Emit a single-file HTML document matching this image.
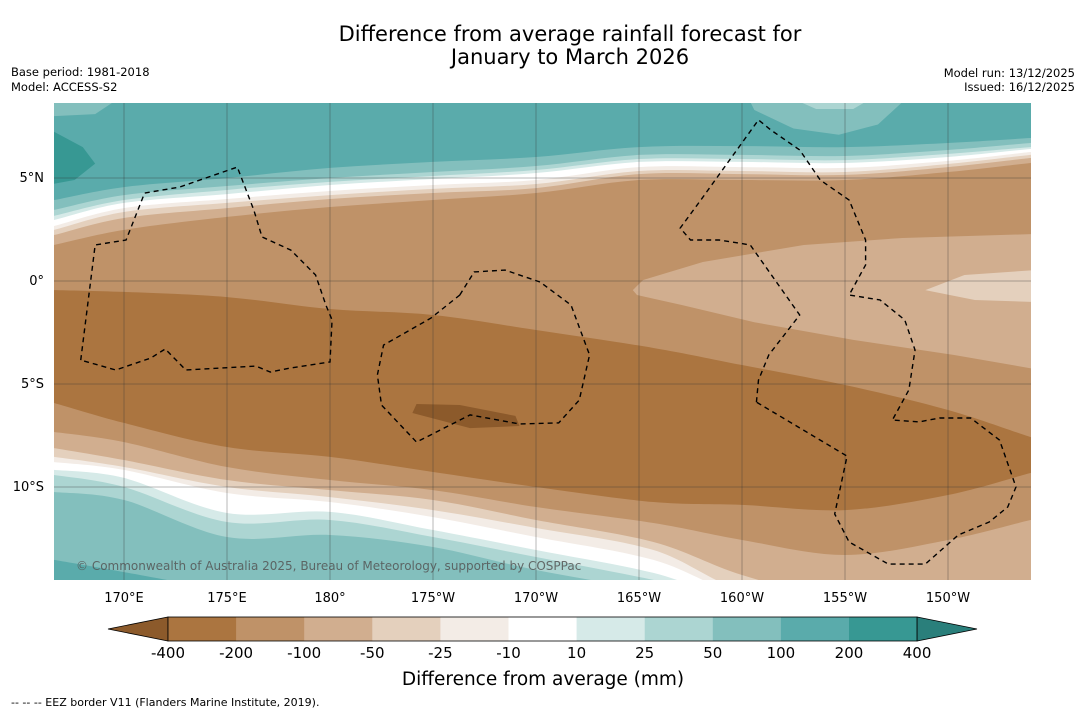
<!DOCTYPE html>
<html><head><meta charset="utf-8"><style>
body{margin:0;background:#fff;font-family:"DejaVu Sans","Liberation Sans",sans-serif;}
svg{display:block}
</style></head><body>
<svg id="chart" width="1085" height="713" viewBox="0 0 1085 713" xmlns="http://www.w3.org/2000/svg" font-family="DejaVu Sans, Liberation Sans, sans-serif">
<rect width="1085" height="713" fill="#fff"/>
<text x="570" y="41" font-size="21" text-anchor="middle">Difference from average rainfall forecast for</text>
<text x="570" y="64" font-size="21" text-anchor="middle">January to March 2026</text>
<text x="11" y="76" font-size="11.5">Base period: 1981-2018</text>
<text x="11" y="91" font-size="11.5">Model: ACCESS-S2</text>
<text x="1075" y="77" font-size="11.5" text-anchor="end">Model run: 13/12/2025</text>
<text x="1075" y="91" font-size="11.5" text-anchor="end">Issued: 16/12/2025</text>
<defs><clipPath id="mc"><rect x="54" y="103" width="977" height="477"/></clipPath></defs>
<g id="map" clip-path="url(#mc)"></g>
<g id="axes"></g>
<g id="cbar"></g>
<text x="543" y="685" font-size="18.5" text-anchor="middle">Difference from average (mm)</text>
<text x="11" y="706" font-size="11">--  --  -- EEZ border V11 (Flanders Marine Institute, 2019).</text>
</svg>
<script>
const colors = {n400:'#8c5a2b',n200:'#ab7540',n100:'#bf9268',n50:'#d1ae8f',n25:'#e4d0bd',n10:'#f3ece6',w:'#ffffff',p10:'#d6eae8',p25:'#acd5d2',p50:'#83bfbd',p100:'#5aabab',p200:'#379893'};
const topLons = [166.6,170,175,180,185,190,195,200,205,210,214];
const botLons = [166.6,170,175,180,185,190,195.7,200,205,210,214];
const topA = [3.93,4.56,5.0,5.49,5.78,6.02,6.50,6.55,6.50,6.70,6.94];
const topB = [3.45,4.17,4.61,5.0,5.29,5.58,6.12,6.12,6.07,6.36,6.70];
const topC = [3.16,3.93,4.42,4.81,5.10,5.39,5.92,5.92,5.87,6.17,6.50];
const topD = [2.96,3.79,4.22,4.66,4.95,5.24,5.78,5.78,5.73,6.02,6.41];
const topE = [2.67,3.54,3.98,4.37,4.66,4.90,5.53,5.53,5.49,5.83,6.26];
const topF = [2.48,3.35,3.79,4.17,4.47,4.71,5.34,5.34,5.29,5.68,6.12];
const topG = [2.23,3.06,3.54,3.98,4.27,4.51,5.19,5.19,5.15,5.53,5.97];
const topH = [1.75,2.48,3.11,3.59,3.93,4.27,4.90,4.90,4.90,5.29,5.73];
const darkTop = [-0.44,-0.53,-0.78,-1.36,-1.65,-2.38,-3.25,-4.08,-5.05,-6.26,-7.57];
const darkBot = [-5.92,-6.89,-8.06,-8.54,-9.27,-10.0,-10.73,-10.87,-11.12,-10.39,-9.32];
const botN100 = [-7.33,-7.82,-9.03,-9.66,-10.15,-10.97,-11.75,-12.57,-13.3,-12.57,-11.6];
const botN50 = [-8.11,-8.69,-9.66,-10.15,-10.63,-11.6,-12.67,-14.27,-15.5,-15.5,-15.5];
const botN25 = [-8.54,-9.03,-10.0,-10.49,-11.12,-11.99,-13.06,-15.0,-15.5,-15.5,-15.5];
const botN10 = [-8.79,-9.17,-10.29,-10.73,-11.46,-12.43,-13.54,-15.2,-15.5,-15.5,-15.5];
const botW = [-9.17,-9.56,-11.26,-11.21,-12.09,-13.06,-14.17,-15.5,-15.5,-15.5,-15.5];
const botP10 = [-9.42,-10.0,-11.7,-11.6,-12.43,-13.4,-14.51,-15.5,-15.5,-15.5,-15.5];
const botP25 = [-10.24,-10.63,-12.43,-12.33,-12.91,-14.03,-15.0,-15.5,-15.5,-15.5,-15.5];
const botP50 = [-13.54,-14.13,-15.0,-15.5,-15.5,-15.5,-15.5,-15.5,-15.5,-15.5,-15.5];
const patchN50 = [[194.7,-0.44],[195.2,0.05],[198.1,0.92],[203,1.75],[207.8,2.09],[214.2,2.28],[214.2,-4.27],[210.3,-3.59],[205.4,-2.86],[200.6,-2.0],[197.1,-1.17],[194.9,-0.68]];
const patchN25 = [[208.9,-0.44],[210.8,0.29],[214.2,0.53],[214.2,-1.02],[211.3,-0.92]];
const patchN400 = [[184.2,-5.97],[186.3,-6.02],[189,-6.55],[189.2,-7.04],[186.8,-7.14],[184,-6.41]];
const patchP200 = [[166.5,7.3],[168,6.5],[168.6,5.7],[167.6,4.9],[166.5,4.7]];
const patchP50a = [[200.4,8.7],[200.6,8.3],[202.5,7.4],[204.7,7.1],[206.6,7.6],[207.8,8.7]];
const patchP25a = [[202.8,8.7],[203.6,8.35],[205.4,8.35],[206,8.7]];
const patchP50b = [[166.5,8.7],[169.5,8.7],[168.6,8.1],[166.5,8.0]];
const eez1 = [[167.9,-3.84],[168.6,1.75],[170.1,1.99],[171,4.27],[172.7,4.56],[175.5,5.53],[176.3,3.45],[176.7,2.14],[178.1,1.5],[179.3,0.29],[179.8,-1.17],[180.1,-1.89],[180,-3.93],[178.1,-4.22],[177.1,-4.42],[176.4,-4.13],[173,-4.32],[172,-3.3],[171.3,-3.74],[169.6,-4.32],[167.9,-3.84]];
const eez2 = [[186.3,-0.68],[187,0.44],[188.5,0.53],[190.2,-0.05],[191.7,-1.17],[192.6,-3.59],[192.1,-5.78],[191.1,-6.89],[189.2,-6.94],[186.8,-6.5],[184.2,-7.82],[182.5,-6.02],[182.3,-4.56],[182.6,-3.11],[184.9,-1.8],[186.3,-0.68]];
const eez3 = [[200.7,-5.88],[200.8,-4.81],[201.3,-3.59],[202.8,-1.65],[200.4,1.75],[198.9,1.99],[197.5,1.99],[197,2.57],[198,3.93],[200.8,7.82],[201.4,7.33],[202.8,6.36],[203.8,4.90],[205.2,3.93],[206,1.99],[206,0.78],[205.2,-0.68],[206.7,-0.92],[207.9,-1.89],[208.4,-3.35],[208.1,-5.29],[207.3,-6.75],[208.6,-6.84],[209.6,-6.65],[211.1,-6.65],[212.5,-7.72],[213.3,-10.0],[212.9,-10.97],[212,-11.7],[210.5,-12.33],[208.9,-13.74],[207.1,-13.74],[205.2,-12.67],[204.5,-11.31],[205.1,-8.5],[200.7,-5.88]];
const lonTicks = [170,175,180,185,190,195,200,205,210];
const lonLabels = ['170°E','175°E','180°','175°W','170°W','165°W','160°W','155°W','150°W'];
const latTicks = [5,0,-5,-10];
const latLabels = ['5°N','0°','5°S','10°S'];
const cbLevels = ['-400','-200','-100','-50','-25','-10','10','25','50','100','200','400'];
const cbColors = ['n200','n100','n50','n25','n10','w','p10','p25','p50','p100','p200'];

const NS='http://www.w3.org/2000/svg';
const X = lon => 330 + (lon-180)*20.6;
const Y = lat => 281 - lat*20.6;
const map = document.getElementById('map');
function mk(tag, attrs, parent){const e=document.createElementNS(NS,tag);for(const k in attrs)e.setAttribute(k,attrs[k]);parent.appendChild(e);return e;}
function smoothPath(pts){
  let d='M'+pts[0][0]+','+pts[0][1];
  for(let i=0;i<pts.length-1;i++){
    const p0=pts[Math.max(0,i-1)],p1=pts[i],p2=pts[i+1],p3=pts[Math.min(pts.length-1,i+2)];
    const c1=[p1[0]+(p2[0]-p0[0])/6,p1[1]+(p2[1]-p0[1])/6];
    const c2=[p2[0]-(p3[0]-p1[0])/6,p2[1]-(p3[1]-p1[1])/6];
    d+=' C'+c1[0]+','+c1[1]+' '+c2[0]+','+c2[1]+' '+p2[0]+','+p2[1];
  }
  return d;
}
function bandDown(lons, lats, color, name){
  const pts=[[X(lons[0])-5,Y(lats[0])]];
  lons.forEach((l,i)=>pts.push([X(l),Y(lats[i])]));
  pts.push([X(lons[lons.length-1])+5,Y(lats[lats.length-1])]);
  const d=smoothPath(pts)+' L1040,600 L40,600 Z';
  const p=mk('path',{d:d,fill:color},map);
  
  
}
function poly(pts, attrs, name, parent){
  const p=mk('polygon',Object.assign({points:pts.map(q=>X(q[0])+','+Y(q[1])).join(' ')},attrs),parent||map);
  
  
}
const bg=mk('rect',{x:40,y:90,width:1000,height:510,fill:colors.p100},map);


poly(patchP200,{fill:colors.p200},'patch-200-400');
poly(patchP50a,{fill:colors.p50},'patch-50-100-top');
poly(patchP25a,{fill:colors.p25},'patch-25-50-top');
poly(patchP50b,{fill:colors.p50},'patch-50-100-topleft');
bandDown(topLons,topA,colors.p50,'band-50-100-north');
bandDown(topLons,topB,colors.p25,'band-25-50-north');
bandDown(topLons,topC,colors.p10,'band-10-25-north');
bandDown(topLons,topD,colors.w,'band-neutral-north');
bandDown(topLons,topE,colors.n10,'band-minus10-25-north');
bandDown(topLons,topF,colors.n25,'band-minus25-50-north');
bandDown(topLons,topG,colors.n50,'band-minus50-100-north');
bandDown(topLons,topH,colors.n100,'band-minus100-200-north');
bandDown(botLons,darkTop,colors.n200,'band-minus200-400');
bandDown(botLons,darkBot,colors.n100,'band-minus100-200-south');
bandDown(botLons,botN100,colors.n50,'band-minus50-100-south');
bandDown(botLons,botN50,colors.n25,'band-minus25-50-south');
bandDown(botLons,botN25,colors.n10,'band-minus10-25-south');
bandDown(botLons,botN10,colors.w,'band-neutral-south');
bandDown(botLons,botW,colors.p10,'band-10-25-south');
bandDown(botLons,botP10,colors.p25,'band-25-50-south');
bandDown(botLons,botP25,colors.p50,'band-50-100-south');
bandDown(botLons,botP50,colors.p100,'band-100-200-south');
poly(patchN50,{fill:colors.n50},'patch-minus50-100');
poly(patchN25,{fill:colors.n25},'patch-minus25-50');
poly(patchN400,{fill:colors.n400},'patch-below-minus400');
lonTicks.forEach((l,i)=>{
  const g=mk('line',{x1:X(l),x2:X(l),y1:103,y2:580,stroke:'#333','stroke-width':0.5,'stroke-opacity':0.7},map);
  
  
});
latTicks.forEach((l,i)=>{
  const g=mk('line',{x1:54,x2:1031,y1:Y(l),y2:Y(l),stroke:'#333','stroke-width':0.5,'stroke-opacity':0.7},map);
  
  
});
[eez1,eez2,eez3].forEach((e,i)=>{
  const p=mk('polygon',{points:e.map(q=>X(q[0])+','+Y(q[1])).join(' '),fill:'none',stroke:'#000','stroke-width':1.4,'stroke-dasharray':'5,4'},map);
  
  
});
const cr=mk('text',{x:76,y:570,'font-size':12,fill:'#555','fill-opacity':0.85},map);
cr.textContent='© Commonwealth of Australia 2025, Bureau of Meteorology, supported by COSPPac';


const axes=document.getElementById('axes');
lonTicks.forEach((l,i)=>{
  const t=mk('text',{x:X(l),y:602,'font-size':13,'text-anchor':'middle'},axes);
  t.textContent=lonLabels[i];
  
  
});
latTicks.forEach((l,i)=>{
  const t=mk('text',{x:44,y:Y(l)+4,'font-size':13,'text-anchor':'end'},axes);
  t.textContent=latLabels[i];
  
  
});
const cb=document.getElementById('cbar');
const cx0=168, cw=68.1, cy=617, ch=24;
const lt=mk('polygon',{points:`108,${cy+ch/2} ${cx0},${cy} ${cx0},${cy+ch}`,fill:colors.n400,stroke:'#000','stroke-width':0.8},cb);


cbColors.forEach((c,i)=>{
  const r=mk('rect',{x:cx0+i*cw,y:cy,width:cw+0.5,height:ch,fill:colors[c]},cb);
  
  
});
const xe=cx0+cbColors.length*cw;
const rt=mk('polygon',{points:`${xe},${cy} 977,${cy+ch/2} ${xe},${cy+ch}`,fill:'#2a7f7b',stroke:'#000','stroke-width':0.8},cb);


mk('rect',{x:cx0,y:cy,width:xe-cx0,height:ch,fill:'none',stroke:'#000','stroke-width':0.8},cb);
cbLevels.forEach((v,i)=>{
  const t=mk('text',{x:cx0+i*cw,y:658,'font-size':15,'text-anchor':'middle'},cb);
  t.textContent=v;
  
  
});
</script>
</body></html>
